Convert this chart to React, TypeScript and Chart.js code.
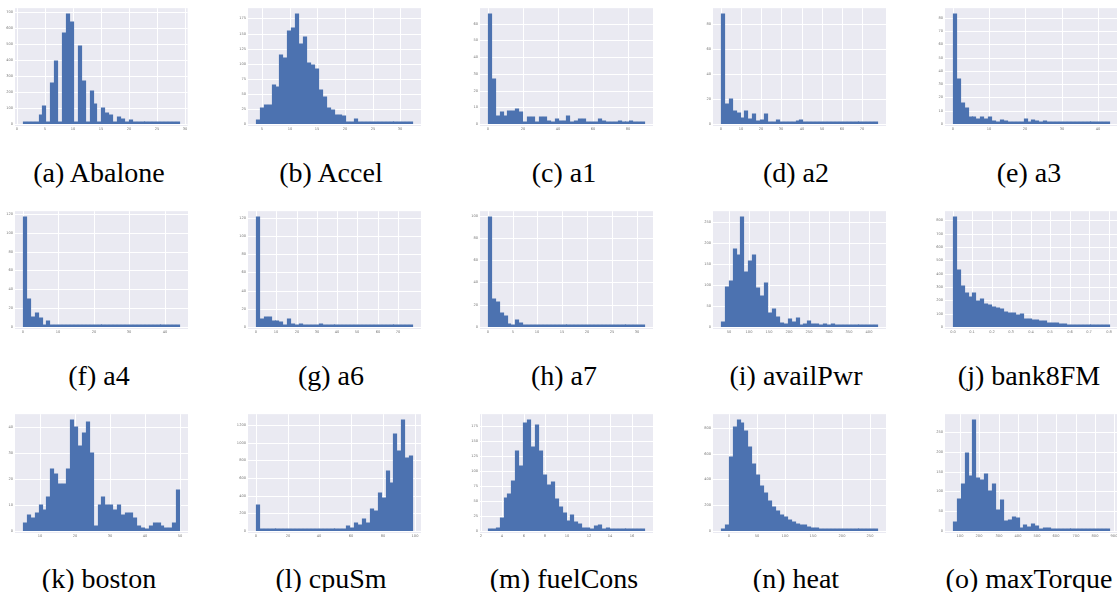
import React, { useEffect, useRef } from "react";
import { Chart, registerables } from "chart.js";

Chart.register(...registerables);

// ---------- data (histogram counts, 40 bins each, with bin range) ----------
const abaloneCounts = [1, 1, 15, 0, 57, 115, 0, 259, 391, 0, 568, 689, 634, 0, 487, 267, 0, 203, 126, 0, 103, 67, 58, 0, 42, 32, 0, 26, 14, 0, 6, 9, 2, 0, 1, 1, 0, 2, 0, 1];
const abaloneRange = [1, 29];
const abaloneXTicks = ["0", "5", "10", "15", "20", "25", "30"];
const abaloneYTicks = ["0", "100", "200", "300", "400", "500", "600", "700"];

const accelCounts = [7, 27, 32, 32, 64, 62, 115, 110, 154, 159, 183, 133, 144, 102, 98, 92, 56, 45, 27, 23, 15, 15, 14, 2, 4, 9, 2, 0, 0, 2, 0, 0, 0, 0, 2, 0, 0, 0, 2, 1];
const accelRange = [3.9, 32.3];
const accelXTicks = ["5", "10", "15", "20", "25", "30"];
const accelYTicks = ["0", "25", "50", "75", "100", "125", "150", "175"];

const a1Counts = [66, 27, 5, 7, 5, 8, 8, 9, 7, 1, 4, 4, 1, 4, 4, 2, 1, 3, 2, 2, 5, 1, 2, 3, 3, 1, 1, 0, 3, 2, 0, 1, 0, 2, 0, 0, 2, 0, 1, 1];
const a1Range = [0, 90];
const a1XTicks = ["0", "20", "40", "60", "80"];
const a1YTicks = ["0", "10", "20", "30", "40", "50", "60"];

const a2Counts = [88, 16, 20, 10, 9, 5, 10, 4, 8, 2, 3, 8, 1, 1, 3, 0, 1, 1, 1, 2, 3, 0, 0, 0, 0, 0, 0, 1, 0, 0, 0, 0, 0, 0, 0, 0, 0, 0, 0, 1];
const a2Range = [0, 78];
const a2XTicks = ["0", "10", "20", "30", "40", "50", "60", "70"];
const a2YTicks = ["0", "20", "40", "60", "80"];

const a3Counts = [83, 34, 16, 12, 5, 5, 4, 5, 4, 5, 2, 1, 3, 2, 1, 0, 1, 1, 4, 0, 3, 2, 0, 2, 1, 0, 0, 0, 0, 0, 0, 1, 0, 0, 0, 0, 0, 0, 0, 1];
const a3Range = [0, 43.4];
const a3XTicks = ["0", "10", "20", "30", "40"];
const a3YTicks = ["0", "10", "20", "30", "40", "50", "60", "70", "80"];

const a4Counts = [117, 30, 11, 15, 10, 2, 6, 0, 0, 0, 2, 0, 0, 0, 0, 0, 0, 0, 0, 0, 0, 0, 0, 0, 0, 0, 0, 0, 0, 0, 0, 0, 0, 0, 0, 0, 0, 0, 0, 1];
const a4Range = [0, 44.4];
const a4XTicks = ["0", "10", "20", "30", "40"];
const a4YTicks = ["0", "20", "40", "60", "80", "100", "120"];

const a6Counts = [121, 9, 11, 11, 7, 7, 5, 0, 9, 3, 0, 3, 0, 0, 0, 0, 3, 0, 0, 0, 0, 1, 0, 0, 0, 0, 0, 0, 0, 0, 0, 0, 0, 0, 0, 0, 0, 0, 0, 1];
const a6Range = [0, 77.4];
const a6XTicks = ["0", "10", "20", "30", "40", "50", "60", "70"];
const a6YTicks = ["0", "20", "40", "60", "80", "100", "120"];

const a7Counts = [99, 25, 22, 13, 10, 3, 2, 6, 4, 2, 0, 0, 2, 1, 0, 1, 0, 0, 1, 1, 0, 1, 0, 1, 0, 0, 1, 0, 0, 0, 0, 0, 0, 1, 0, 0, 0, 0, 1, 2];
const a7Range = [0, 31.7];
const a7XTicks = ["0", "5", "10", "15", "20", "25", "30"];
const a7YTicks = ["0", "20", "40", "60", "80", "100"];

const availPwrCounts = [13, 95, 109, 186, 172, 263, 132, 158, 172, 92, 73, 104, 34, 43, 24, 10, 6, 20, 13, 22, 3, 6, 15, 8, 8, 3, 8, 1, 8, 2, 1, 2, 1, 1, 2, 1, 1, 1, 1, 2];
const availPwrRange = [28.7, 423.9];
const availPwrXTicks = ["50", "100", "150", "200", "250", "300", "350", "400"];
const availPwrYTicks = ["0", "50", "100", "150", "200", "250"];

const bank8FMCounts = [827, 429, 304, 253, 223, 253, 194, 209, 172, 164, 150, 142, 135, 113, 105, 105, 91, 98, 61, 61, 54, 52, 42, 42, 27, 27, 32, 20, 20, 12, 7, 15, 10, 9, 6, 5, 4, 3, 2, 2];
const bank8FMRange = [0, 0.806];
const bank8FMXTicks = ["0.0", "0.1", "0.2", "0.3", "0.4", "0.5", "0.6", "0.7", "0.8"];
const bank8FMYTicks = ["0", "100", "200", "300", "400", "500", "600", "700", "800"];

const bostonCounts = [3, 6, 5, 7, 10, 8, 13, 24, 22, 18, 18, 24, 43, 40, 33, 38, 42, 30, 2, 10, 13, 10, 10, 8, 10, 6, 7, 7, 5, 2, 1, 0, 2, 3, 3, 2, 1, 1, 3, 16];
const bostonRange = [5, 50];
const bostonXTicks = ["10", "20", "30", "40", "50"];
const bostonYTicks = ["0", "10", "20", "30", "40"];

const cpuSmCounts = [293, 1, 0, 1, 0, 1, 1, 0, 1, 1, 1, 2, 2, 3, 3, 4, 5, 6, 8, 10, 11, 8, 22, 56, 34, 90, 67, 135, 90, 248, 225, 428, 371, 675, 540, 1103, 912, 1261, 822, 855];
const cpuSmRange = [0, 99];
const cpuSmXTicks = ["0", "20", "40", "60", "80", "100"];
const cpuSmYTicks = ["0", "200", "400", "600", "800", "1000", "1200"];

const fuelConsCounts = [2, 2, 5, 22, 55, 62, 83, 133, 108, 181, 186, 140, 178, 133, 93, 77, 82, 53, 40, 30, 17, 27, 15, 12, 5, 5, 2, 8, 10, 2, 5, 2, 0, 1, 2, 2, 0, 1, 0, 1];
const fuelConsRange = [2.67, 17.25];
const fuelConsXTicks = ["2", "4", "6", "8", "10", "12", "14", "16"];
const fuelConsYTicks = ["0", "25", "50", "75", "100", "125", "150", "175"];

const heatCounts = [8, 46, 571, 810, 864, 841, 779, 656, 517, 432, 347, 293, 231, 185, 154, 123, 108, 85, 69, 54, 46, 46, 31, 23, 23, 15, 15, 15, 8, 8, 8, 8, 3, 3, 2, 2, 3, 2, 1, 1];
const heatRange = [-13.7, 264.3];
const heatXTicks = ["0", "50", "100", "150", "200", "250"];
const heatYTicks = ["0", "200", "400", "600", "800"];

const maxTorqueCounts = [23, 80, 118, 196, 140, 281, 133, 130, 143, 100, 118, 53, 78, 25, 28, 35, 33, 8, 15, 10, 18, 13, 5, 8, 8, 1, 3, 0, 1, 1, 1, 1, 3, 1, 1, 0, 3, 3, 3, 1];
const maxTorqueRange = [63, 877];
const maxTorqueXTicks = ["100", "200", "300", "400", "500", "600", "700", "800", "900"];
const maxTorqueYTicks = ["0", "50", "100", "150", "200", "250"];

type Panel = {
  caption: string;
  counts: number[];
  range: number[];
  xTicks: string[];
  yTicks: string[];
};

const panels: Panel[] = [
  { caption: "(a) Abalone", counts: abaloneCounts, range: abaloneRange, xTicks: abaloneXTicks, yTicks: abaloneYTicks },
  { caption: "(b) Accel", counts: accelCounts, range: accelRange, xTicks: accelXTicks, yTicks: accelYTicks },
  { caption: "(c) a1", counts: a1Counts, range: a1Range, xTicks: a1XTicks, yTicks: a1YTicks },
  { caption: "(d) a2", counts: a2Counts, range: a2Range, xTicks: a2XTicks, yTicks: a2YTicks },
  { caption: "(e) a3", counts: a3Counts, range: a3Range, xTicks: a3XTicks, yTicks: a3YTicks },
  { caption: "(f) a4", counts: a4Counts, range: a4Range, xTicks: a4XTicks, yTicks: a4YTicks },
  { caption: "(g) a6", counts: a6Counts, range: a6Range, xTicks: a6XTicks, yTicks: a6YTicks },
  { caption: "(h) a7", counts: a7Counts, range: a7Range, xTicks: a7XTicks, yTicks: a7YTicks },
  { caption: "(i) availPwr", counts: availPwrCounts, range: availPwrRange, xTicks: availPwrXTicks, yTicks: availPwrYTicks },
  { caption: "(j) bank8FM", counts: bank8FMCounts, range: bank8FMRange, xTicks: bank8FMXTicks, yTicks: bank8FMYTicks },
  { caption: "(k) boston", counts: bostonCounts, range: bostonRange, xTicks: bostonXTicks, yTicks: bostonYTicks },
  { caption: "(l) cpuSm", counts: cpuSmCounts, range: cpuSmRange, xTicks: cpuSmXTicks, yTicks: cpuSmYTicks },
  { caption: "(m) fuelCons", counts: fuelConsCounts, range: fuelConsRange, xTicks: fuelConsXTicks, yTicks: fuelConsYTicks },
  { caption: "(n) heat", counts: heatCounts, range: heatRange, xTicks: heatXTicks, yTicks: heatYTicks },
  { caption: "(o) maxTorque", counts: maxTorqueCounts, range: maxTorqueRange, xTicks: maxTorqueXTicks, yTicks: maxTorqueYTicks },
];

// ---------- layout ----------
const PLOT_LEFT = [15, 248, 480, 713, 945];
const PLOT_W = 173;
const PLOT_TOP = [7, 210, 413];
const PLOT_H = [117, 117, 118];
const CAPTION_Y = [173, 376, 579];
const CAPTION_X = [99, 331, 564, 796, 1029];
const YAXIS_W = 16;
const XAXIS_H = 9;
const PAD = 3;

const bgPlugin = {
  id: "plotBg",
  beforeDraw(chart: any) {
    const { ctx, chartArea } = chart;
    ctx.save();
    ctx.fillStyle = "#EAEAF2";
    ctx.fillRect(chartArea.left, chartArea.top, chartArea.right - chartArea.left, chartArea.bottom - chartArea.top + 2);
    ctx.restore();
  },
};

function Hist({ p, col, row }: { p: Panel; col: number; row: number }) {
  const ref = useRef<HTMLCanvasElement>(null);
  const w = YAXIS_W + PLOT_W + PAD;
  const h = PAD + PLOT_H[row] + XAXIS_H;
  useEffect(() => {
    const [lo, hi] = p.range;
    const n = p.counts.length;
    const R = hi - lo;
    const bw = R / n;
    const ymax = Math.max(...p.counts) * 1.05;
    const xVals = p.xTicks.map(Number);
    const yVals = p.yTicks.map(Number);
    const tickFont = { size: 3.6, family: "DejaVu Sans" };
    const chart = new Chart(ref.current as HTMLCanvasElement, {
      type: "bar",
      data: {
        datasets: [
          {
            data: p.counts.map((c, i) => ({ x: lo + (i + 0.5) * bw, y: c })) as any,
            backgroundColor: "#4C72B0",
            borderWidth: 0,
            barPercentage: 1,
            categoryPercentage: 1,
            grouped: false,
            inflateAmount: 0.6,
            minBarLength: 2,
          },
        ],
      },
      options: {
        animation: false,
        responsive: false,
        maintainAspectRatio: false,
        devicePixelRatio: 1,
        layout: { padding: { top: PAD, right: PAD, left: 0, bottom: 0 } },
        plugins: { legend: { display: false }, tooltip: { enabled: false } },
        scales: {
          x: {
            type: "linear",
            min: lo - 0.05 * R,
            max: hi + 0.05 * R,
            offset: false,
            alignToPixels: true,
            grid: { color: "#ffffff", lineWidth: 1, drawTicks: false, offset: false },
            border: { display: false },
            ticks: {
              font: tickFont,
              color: "#777777",
              padding: 3,
              maxRotation: 0,
              autoSkip: false,
              callback: (_v: any, i: number) => p.xTicks[i],
            },
            afterBuildTicks: (ax: any) => {
              ax.ticks = xVals.map((v) => ({ value: v }));
            },
            afterFit: (s: any) => {
              s.height = XAXIS_H;
            },
          },
          y: {
            type: "linear",
            min: 0,
            max: ymax,
            alignToPixels: true,
            grid: { color: "#ffffff", lineWidth: 1, drawTicks: false },
            border: { display: false },
            ticks: {
              font: tickFont,
              color: "#777777",
              padding: 2,
              autoSkip: false,
              callback: (_v: any, i: number) => p.yTicks[i],
            },
            afterBuildTicks: (ax: any) => {
              ax.ticks = yVals.map((v) => ({ value: v }));
            },
            afterFit: (s: any) => {
              s.width = YAXIS_W;
            },
          },
        },
      } as any,
      plugins: [bgPlugin],
    });
    return () => chart.destroy();
  }, [p, row]);
  return (
    <canvas
      ref={ref}
      width={w}
      height={h}
      style={{
        position: "absolute",
        left: PLOT_LEFT[col] - YAXIS_W,
        top: PLOT_TOP[row] - PAD,
        width: w,
        height: h,
      }}
    />
  );
}

export default function App() {
  return (
    <div
      style={{
        position: "fixed",
        left: 0,
        top: 0,
        width: 1117,
        height: 592,
        background: "#ffffff",
        overflow: "hidden",
      }}
    >
      {panels.map((p, i) => {
        const col = i % 5;
        const row = Math.floor(i / 5);
        return (
          <React.Fragment key={p.caption}>
            <Hist p={p} col={col} row={row} />
            <div
              style={{
                position: "absolute",
                left: CAPTION_X[col] - 120,
                width: 240,
                top: CAPTION_Y[row] - 16,
                height: 32,
                lineHeight: "32px",
                textAlign: "center",
                fontFamily: '"Liberation Serif", "DejaVu Serif", serif',
                fontSize: 28,
                color: "#000",
                whiteSpace: "nowrap",
              }}
            >
              {p.caption}
            </div>
          </React.Fragment>
        );
      })}
    </div>
  );
}
